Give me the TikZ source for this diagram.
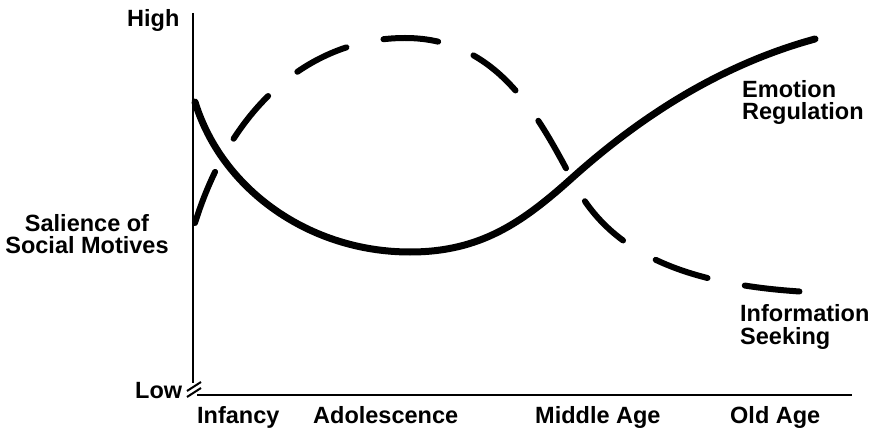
\documentclass[tikz,border=0pt]{standalone}
\usepackage{fontspec}
\setmainfont{Liberation Sans}
\begin{document}
\begin{tikzpicture}[x=1pt,y=-1pt,
  lbl/.style={font=\bfseries\fontsize{23.5}{22}\selectfont, inner sep=0pt},
  axisline/.style={line width=2.6pt},
  solidcurve/.style={line width=7pt, line cap=round},
  dashcurve/.style={line width=6pt, line cap=round, dash pattern=on 55pt off 38pt}]
\useasboundingbox (0,0) rectangle (880,430);

% axes with a break at the origin
\coordinate (ytop) at (193,13);
\coordinate (ybot) at (193,383);
\coordinate (xleft) at (197,395);
\coordinate (xright) at (852,395);
\draw[axisline] (ytop) -- (ybot);
\draw[axisline] (xleft) -- (xright);
\coordinate (b1a) at (187,391);
\coordinate (b1b) at (201,382);
\coordinate (b2a) at (187,397);
\coordinate (b2b) at (201,388);
\draw[line width=2pt] (b1a) -- (b1b);
\draw[line width=2pt] (b2a) -- (b2b);

% axis labels
\node[lbl, anchor=base west] (high) at (127,27) {High};
\node[lbl, anchor=base west] (low) at (135,398) {Low};
\node[lbl, align=center] (ylabel) at (87,234) {Salience of\\Social Motives};

\node[lbl, anchor=base west] (infancy) at (197,423) {Infancy};
\node[lbl, anchor=base west] (adol) at (313,423) {Adolescence};
\node[lbl, anchor=base west] (middle) at (535,423) {Middle Age};
\node[lbl, anchor=base west] (old) at (730,423) {Old Age};

% curve labels
\node[lbl, anchor=base west] (emo1) at (742,98) {Emotion};
\node[lbl, anchor=base west] (emo2) at (742,120) {Regulation};
\node[lbl, anchor=base west] (inf1) at (740,321) {Information};
\node[lbl, anchor=base west] (inf2) at (740,344) {Seeking};

% emotion regulation
\draw[solidcurve] (195,102) .. controls (222,190) and (310,252) .. (410,252)
  .. controls (480,252) and (522,223) .. (572,178)
  .. controls (640,117) and (720,65) .. (815,39);

% information seeking
\draw[dashcurve] (195,223) .. controls (235,95) and (320,38) .. (405,38)
  .. controls (500,38) and (540,120) .. (575,185)
  .. controls (610,250) and (680,285) .. (808,292);
\end{tikzpicture}
\end{document}
